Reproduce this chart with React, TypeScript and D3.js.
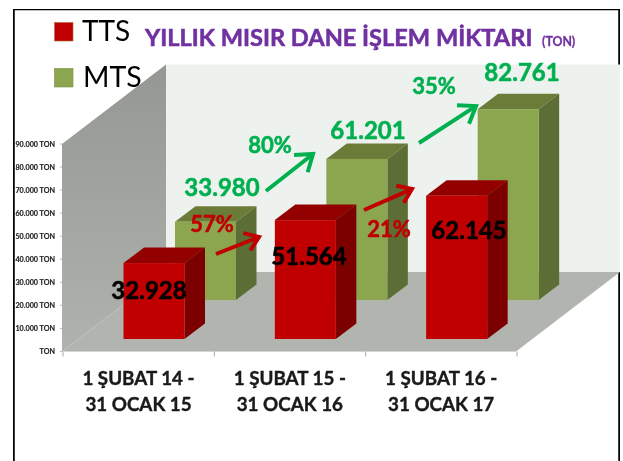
import React from "react";
import * as d3 from "d3";

const categories = [["1 ŞUBAT 14 -", "31 OCAK 15"], ["1 ŞUBAT 15 -", "31 OCAK 16"], ["1 ŞUBAT 16 -", "31 OCAK 17"]];
const ttsValues = [32928, 51564, 62145];
const mtsValues = [33980, 61201, 82761];
const ttsLabels = ["32.928", "51.564", "62.145"];
const mtsLabels = ["33.980", "61.201", "82.761"];
const tickValues = [0, 10000, 20000, 30000, 40000, 50000, 60000, 70000, 80000, 90000];
const tickLabels = ["TON", "10.000 TON", "20.000 TON", "30.000 TON", "40.000 TON", "50.000 TON", "60.000 TON", "70.000 TON", "80.000 TON", "90.000 TON"];

const FONT = "Lato, 'Open Sans', sans-serif";
const x0 = 62, x1 = 516, yBase = 351.5, yTop = 144;
const dx = 104, dy = 79.5;
const barW = 61, barDx = 20.5, barDy = 15.5;
const x = d3.scaleBand<number>().domain([0, 1, 2]).range([x0, x1]);
const y = d3.scaleLinear().domain([0, 90000]).range([yBase, yTop]);
const pts = (p: number[][]) => p.map((a) => a.join(",")).join(" ");

function Bar({ left, bottom, value, front, top, side }: any) {
  const h = yBase - y(value);
  const t = bottom - h;
  const r = left + barW;
  return (
    <g>
      <polygon points={pts([[left, t], [left + barDx, t - barDy], [r + barDx, t - barDy], [r, t]])} fill={top} />
      <polygon points={pts([[r, t], [r + barDx, t - barDy], [r + barDx, bottom - barDy], [r, bottom]])} fill={side} />
      <rect x={left} y={t} width={barW} height={h} fill={front} />
    </g>
  );
}

function Arrow({ from, to, color, w, head }: any) {
  const a = Math.atan2(to[1] - from[1], to[0] - from[0]);
  const h1 = [to[0] - head * Math.cos(a - 0.62), to[1] - head * Math.sin(a - 0.62)];
  const h2 = [to[0] - head * Math.cos(a + 0.62), to[1] - head * Math.sin(a + 0.62)];
  return (
    <g stroke={color} strokeWidth={w} fill="none" strokeLinejoin="miter">
      <line x1={from[0]} y1={from[1]} x2={to[0] - 2 * Math.cos(a)} y2={to[1] - 2 * Math.sin(a)} />
      <polyline points={pts([h1, to, h2])} />
    </g>
  );
}

export default function App() {
  const txt = (t: string, px: number, py: number, size: number, fill: string, anchor = "middle", sw = 0.55) => (
    <text x={px} y={py} fontSize={size} fontWeight={700} fill={fill} stroke={fill} strokeWidth={sw} textAnchor={anchor as any} fontFamily={FONT}>{t}</text>
  );
  return (
    <svg width={623} height={461} style={{ position: "absolute", left: 0, top: 0, background: "#fff" }}>
      <defs>
        <linearGradient id="wall" x1="0" y1="0" x2="0" y2="1">
          <stop offset="0" stopColor="#959892" />
          <stop offset="1" stopColor="#b0b3ad" />
        </linearGradient>
        <filter id="soft" x="0" y="0" width="100%" height="100%">
          <feGaussianBlur stdDeviation="0.35" />
        </filter>
      </defs>
      <rect x={0} y={0} width={623} height={461} fill="#fff" />
      <g filter="url(#soft)">
        <rect x={13.5} y={9} width={606} height={470} fill="#fff" stroke="#000" strokeWidth={2.5} />

        <rect x={x0 + dx} y={y(90000) - dy} width={x1 - x0} height={yBase - yTop} fill="#eef2ee" />
        <polygon points={pts([[x0, yBase], [x0 + dx, yBase - dy], [x1 + dx, yBase - dy], [x1, yBase]])} fill="#b2b5af" />
        <polygon points={pts([[x0, yBase], [x0, yTop], [x0 + dx, yTop - dy], [x0 + dx, yBase - dy]])} fill="url(#wall)" />

        <line x1={x0} y1={yBase} x2={x1} y2={yBase} stroke="#d4d4d4" />
        {[0, 1, 2, 3].map((i) => (
          <line key={i} x1={x0 + (i * (x1 - x0)) / 3 + 1} x2={x0 + (i * (x1 - x0)) / 3 + 1} y1={yBase} y2={yBase + 5} stroke="#aaa" />
        ))}
        {tickValues.map((v, i) => (
          <g key={v}>
            <line x1={x0 - 2} x2={x0} y1={y(v)} y2={y(v)} stroke="#bbb" />
            <text x={55} y={y(v) + 2.5} fontSize={7.2} fontWeight={700} textAnchor="end" fill="#222" stroke="#222" strokeWidth={0.15} fontFamily={FONT}>{tickLabels[i]}</text>
          </g>
        ))}

        {mtsValues.map((v, i) => (
          <Bar key={i} left={x(i)! + 113} bottom={300} value={v} front="#8ba650" top="#6b7c39" side="#5c6d34" />
        ))}
        {ttsValues.map((v, i) => (
          <Bar key={i} left={x(i)! + 61.5} bottom={339} value={v} front="#c00000" top="#930000" side="#7d0000" />
        ))}

        {categories.map((c, i) => (
          <g key={i}>
            {txt(c[0], x(i)! + 76.5, 385, 18.8, "#1a1a1a", "middle", 0.4)}
            {txt(c[1], x(i)! + 76.5, 411, 18.8, "#1a1a1a", "middle", 0.4)}
          </g>
        ))}

        <rect x={54.5} y={22.5} width={18.5} height={18.5} fill="#c00000" stroke="#a5703a" strokeWidth={0.6} />
        <rect x={54.5} y={68.5} width={18.5} height={18.5} fill="#8ba650" stroke="#7a9040" strokeWidth={0.6} />
        <text x={82} y={41} fontSize={28} fill="#000" fontFamily={FONT}>TTS</text>
        <text x={83} y={87} fontSize={28.5} fill="#000" fontFamily={FONT}>MTS</text>

        {txt("YILLIK MISIR DANE İŞLEM MİKTARI", 145, 46, 23.6, "#7030a0", "start")}
        {txt("(TON)", 542, 46, 12.3, "#7030a0", "start", 0.3)}

        {txt(ttsLabels[0], 149, 299, 24, "#000")}
        {txt(ttsLabels[1], 309, 265, 24, "#000")}
        {txt(ttsLabels[2], 469, 239, 24, "#000")}

        {txt(mtsLabels[0], 222, 196, 24, "#00b050")}
        {txt(mtsLabels[1], 368, 139, 24, "#00b050")}
        {txt(mtsLabels[2], 522, 81, 24, "#00b050")}

        {txt("80%", 270, 153, 22, "#00b050")}
        {txt("35%", 434, 94, 22, "#00b050")}
        {txt("57%", 212, 232, 22, "#c00000")}
        {txt("21%", 389, 237, 22, "#c00000")}

        <Arrow from={[266, 191]} to={[313, 154]} color="#00b050" w={4} head={19} />
        <Arrow from={[419, 143]} to={[476, 106]} color="#00b050" w={4} head={19} />
        <Arrow from={[216, 254]} to={[259, 237]} color="#c00000" w={4} head={16} />
        <Arrow from={[364, 210]} to={[412, 189]} color="#c00000" w={4} head={16} />
      </g>
    </svg>
  );
}
